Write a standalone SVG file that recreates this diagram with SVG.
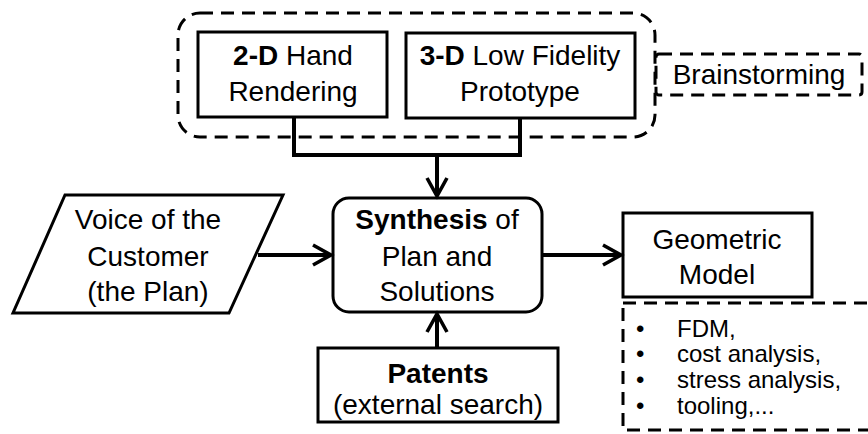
<svg xmlns="http://www.w3.org/2000/svg" width="868" height="434" viewBox="0 0 868 434">
<defs>
<marker id="arr" viewBox="0 0 12 12" refX="10" refY="6" markerWidth="6" markerHeight="6" orient="auto" markerUnits="strokeWidth">
<path d="M1,1 L10,6 L1,11" fill="none" stroke="#000" stroke-width="1.8"/>
</marker>
<style>
.box{fill:#fff;stroke:#000;stroke-width:3}
.dash{fill:none;stroke:#000;stroke-width:3;stroke-dasharray:13 8}
.con{fill:none;stroke:#000;stroke-width:4}
text{font-family:"Liberation Sans",Arial,sans-serif;font-size:28px;fill:#000}
.c{text-anchor:middle}
.b{font-weight:bold}
.s{font-size:24px}
</style>
</defs>
<rect width="868" height="434" fill="#fff"/>
<g id="brainstorm-group">
<rect class="dash" x="178" y="13" width="477" height="124" rx="22"/>
</g>
<g id="hand-rendering">
<rect class="box" x="198" y="32" width="189" height="85"/>
<text class="c" x="293" y="65"><tspan class="b">2-D</tspan> Hand</text>
<text class="c" x="293" y="101">Rendering</text>
</g>
<g id="low-fidelity">
<rect class="box" x="406" y="33" width="229" height="85"/>
<text class="c" x="520" y="65"><tspan class="b">3-D</tspan> Low Fidelity</text>
<text class="c" x="520" y="101">Prototype</text>
</g>
<g id="brainstorming">
<rect class="dash" x="656" y="54" width="206" height="41" rx="3"/>
<text class="c" x="759" y="84">Brainstorming</text>
</g>
<g id="voice">
<polygon class="box" points="65,195 283,195 229,313 13,313"/>
<text class="c" x="148" y="229">Voice of the</text>
<text class="c" x="148" y="266">Customer</text>
<text class="c" x="148" y="301">(the Plan)</text>
</g>
<g id="synthesis">
<rect class="box" x="333" y="198" width="209" height="114" rx="16"/>
<text class="c" x="437" y="229"><tspan class="b">Synthesis</tspan> of</text>
<text class="c" x="437" y="266">Plan and</text>
<text class="c" x="437" y="301">Solutions</text>
</g>
<g id="geometric">
<rect class="box" x="623" y="213" width="189" height="84"/>
<text class="c" x="717" y="249">Geometric</text>
<text class="c" x="717" y="284">Model</text>
</g>
<g id="analyses">
<rect class="dash" x="623" y="303" width="260" height="127"/>
<text class="s" x="636" y="337">•</text>
<text class="s" x="677" y="337">FDM,</text>
<text class="s" x="636" y="362">•</text>
<text class="s" x="677" y="362">cost analysis,</text>
<text class="s" x="636" y="388">•</text>
<text class="s" x="677" y="388">stress analysis,</text>
<text class="s" x="636" y="414">•</text>
<text class="s" x="677" y="414">tooling,...</text>
</g>
<g id="patents">
<rect class="box" x="318" y="348" width="240" height="74"/>
<text class="c b" x="438" y="383">Patents</text>
<text class="c" x="438" y="414">(external search)</text>
</g>
<g id="connectors">
<path class="con" d="M294,117 V155 H520 V118"/>
<path class="con" d="M437,155 V196" marker-end="url(#arr)"/>
<path class="con" d="M258,255 H331" marker-end="url(#arr)"/>
<path class="con" d="M542,255 H621" marker-end="url(#arr)"/>
<path class="con" d="M437,348 V314" marker-end="url(#arr)"/>
</g>
</svg>
